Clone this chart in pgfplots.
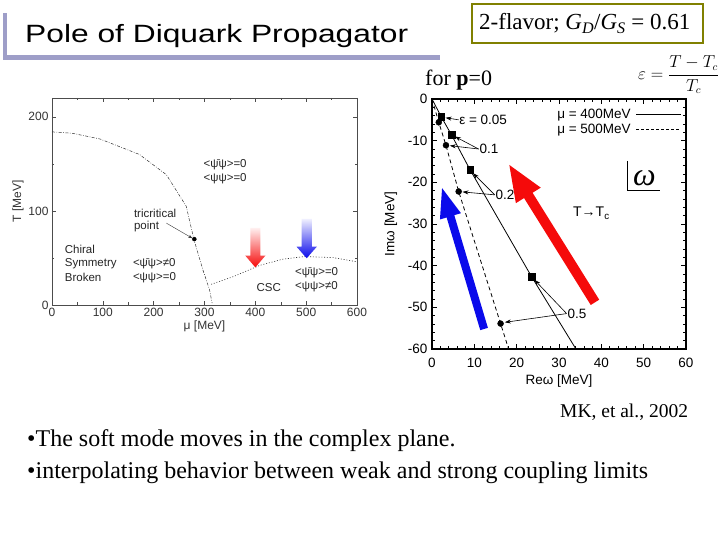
\documentclass[border=0pt]{standalone}
\usepackage{fontspec}
\setmainfont{Liberation Serif}
\newfontfamily\arial{Liberation Sans}
\usepackage{graphicx}
\usepackage{pgfplots}
\pgfplotsset{compat=1.18}
\usetikzlibrary{arrows.meta}
\definecolor{lav}{RGB}{158,158,200}
\definecolor{boxol}{RGB}{128,128,0}
\definecolor{myred}{RGB}{245,10,10}
\definecolor{myblue}{RGB}{10,10,235}
\newcommand{\fs}[1]{\fontsize{#1}{#1}\selectfont}
\begin{document}
\begin{tikzpicture}[x=1pt,y=1pt]
\path[use as bounding box, fill=white] (0pt,0pt) rectangle (720pt,540pt);
% slide decorations
\fill[lav] (3pt,480pt) rectangle (7pt,527pt);
\fill[lav] (3pt,480pt) rectangle (440pt,485pt);
\node[anchor=base west, inner sep=0pt] at (25pt,497pt) {\arial\fs{25}\scalebox{1.27}[1]{Pole of Diquark Propagator}};
\draw[boxol, line width=2.5pt] (472pt,497pt) rectangle (703pt,536pt);
\node[anchor=base west, inner sep=0pt] at (479pt,510pt) {\fs{23}2-flavor; \textit{G}\textsubscript{\textit{D}}/\textit{G}\textsubscript{\textit{S}} = 0.61};
\node[anchor=base west, inner sep=0pt] at (425pt,454pt) {\fs{22}for \textbf{p}=0};
\node[anchor=west, inner sep=0pt] at (638pt,465pt) {\fs{16}$\displaystyle\varepsilon=\frac{T-T_c}{T_c}$};
\node[anchor=base west, inner sep=0pt] at (560pt,122pt) {\fs{19.5}MK, et al., 2002};
\node[anchor=base west, inner sep=0pt] at (27pt,93pt) {\fs{24}\textbullet The soft mode moves in the complex plane.};
\node[anchor=base west, inner sep=0pt] at (27pt,61pt) {\fs{24}\textbullet interpolating behavior between weak and strong coupling limits};

% left: phase diagram
\begin{axis}[
 at={(52pt,235pt)}, anchor=south west, scale only axis, width=305pt, height=207pt,
 xmin=0, xmax=600, ymin=0, ymax=220,
 xtick={0,100,...,600}, ytick={0,100,200},
 minor xtick={50,150,...,550}, minor ytick={50,150},
 axis line style={black!70, line width=0.6pt},
 tick style={black!70, line width=0.5pt}, major tick length=4pt, minor tick length=2.5pt,
 /pgf/number format/assume math mode=true,
 ticklabel style={font=\arial\fs{12}, text=black!80},
 xlabel={μ [MeV]}, ylabel={T [MeV]},
 label style={font=\arial\fs{12}, text=black!80},
 xlabel style={yshift=3pt}, ylabel style={yshift=-2pt},
 clip=false]
\addplot[black!80, line width=0.5pt, dash pattern=on 3pt off 1.5pt on 0.7pt off 1.5pt] coordinates {(0,184)(40,182.5)(94,176.5)(172,160)(225,138.5)(264,105)(279,70)(297,37)(310,16)(315,2)};
\addplot[black!80, line width=0.6pt, dash pattern=on 1pt off 1.8pt] coordinates {(313,22)(356,30)(408,42)(454,48.7)(497,51.5)(553,50.4)(599,46)};
\addplot[only marks, mark=*, mark size=2pt, black] coordinates {(280,70)};
\shade[top color=red!6, bottom color=myred] (axis cs:390,82) -- (axis cs:410,82) -- (axis cs:410,52.6) -- (axis cs:420,52.6) -- (axis cs:400,40) -- (axis cs:380,52.6) -- (axis cs:390,52.6) -- cycle;
\shade[top color=blue!6, bottom color=myblue] (axis cs:491,91.6) -- (axis cs:511,91.6) -- (axis cs:511,62) -- (axis cs:521,62) -- (axis cs:501,49.7) -- (axis cs:481,62) -- (axis cs:491,62) -- cycle;
\draw[black!80, line width=0.4pt, -{Stealth[length=4pt,width=3pt]}] (axis cs:225,87) -- (axis cs:276,71);
\begin{scope}[every node/.style={font=\arial\fs{11.5}, text=black!85, anchor=west, inner sep=0pt}]
\node at (axis cs:298,149) {<ψ̄ψ>=0};
\node at (axis cs:298,134) {<ψψ>=0};
\node at (axis cs:161,97) {tricritical};
\node at (axis cs:161,83.5) {point};
\node at (axis cs:25,58.6) {Chiral};
\node at (axis cs:25,43.7) {Symmetry};
\node at (axis cs:25,29) {Broken};
\node at (axis cs:159,43.7) {<ψ̄ψ>≠0};
\node at (axis cs:159,29) {<ψψ>=0};
\node at (axis cs:402,19) {CSC};
\node at (axis cs:478,34) {<ψ̄ψ>=0};
\node at (axis cs:478,19) {<ψψ>≠0};
\end{scope}
\end{axis}

% right: poles
\begin{axis}[
 at={(432pt,191pt)}, anchor=south west, scale only axis, width=254pt, height=250pt,
 xmin=0, xmax=60, ymin=-60, ymax=0,
 xtick={0,10,...,60}, ytick={-60,-50,...,0},
 minor tick num=4,
 axis line style={line width=1.3pt},
 tick style={line width=0.9pt, black}, major tick length=5pt, minor tick length=3pt,
 /pgf/number format/assume math mode=true,
 ticklabel style={font=\arial\fs{13.5}},
 xticklabel style={yshift=-6pt},
 yticklabel style={xshift=-1pt},
 xlabel={Reω [MeV]}, ylabel={Imω [MeV]},
 label style={font=\arial\fs{13.5}},
 xlabel style={yshift=0pt}, ylabel style={yshift=4pt},
 clip=false]
\draw[myred, line width=10pt, -{Triangle[length=38pt,width=26pt]}] (axis cs:38.5,-48.8) -- (axis cs:18,-15.4);
\draw[myblue, line width=8pt, -{Triangle[length=32pt,width=19pt]}] (axis cs:12.3,-55.2) -- (axis cs:2.2,-20.8);
\addplot[black, line width=0.8pt] coordinates {(0,0)(2.2,-4.3)(4.6,-8.6)(9.0,-17)(23.5,-42.6)(34,-60)};
\addplot[black, line width=0.8pt, dash pattern=on 4pt off 3pt] coordinates {(0,0)(1.6,-5.6)(3.3,-11.1)(6.3,-22.2)(16.2,-53.9)(18.1,-60)};
\addplot[only marks, mark=square*, mark size=3.3pt, black] coordinates {(2.2,-4.3)(4.6,-8.6)(9.0,-17)(23.5,-42.6)};
\addplot[only marks, mark=*, mark size=3pt, black] coordinates {(1.6,-5.6)(3.3,-11.1)(6.3,-22.2)(16.2,-53.9)};
\begin{scope}[-{Stealth[length=6pt,width=4pt]}, line width=0.6pt]
\draw (axis cs:6.3,-5) -- (axis cs:3.2,-4.5);
\draw (axis cs:11,-12) -- (axis cs:5.4,-9);
\draw (axis cs:11,-12) -- (axis cs:4.2,-11.2);
\draw (axis cs:14.8,-23) -- (axis cs:9.7,-17.8);
\draw (axis cs:14.8,-23) -- (axis cs:7.2,-22.3);
\draw (axis cs:31.8,-51.5) -- (axis cs:24.2,-43.4);
\draw (axis cs:31.8,-51.5) -- (axis cs:17.2,-53.6);
\end{scope}
\begin{scope}[every node/.style={font=\arial\fs{13.5}, anchor=west, inner sep=0pt}]
\node at (axis cs:6.4,-5) {ε = 0.05};
\node at (axis cs:11.2,-12) {0.1};
\node at (axis cs:15,-23) {0.2};
\node at (axis cs:32,-51.5) {0.5};
\node[anchor=east] at (axis cs:47,-3.8) {μ = 400MeV};
\node[anchor=east] at (axis cs:47,-7.4) {μ = 500MeV};
\node[font=\arial\fs{14}] at (axis cs:33.3,-27.4) {T→T\textsubscript{c}};
\end{scope}
\draw[line width=0.7pt] (axis cs:48.3,-3.8) -- (axis cs:58.9,-3.8);
\draw[line width=0.7pt, dash pattern=on 3pt off 2pt] (axis cs:48.3,-7.4) -- (axis cs:58.9,-7.4);
\end{axis}
% omega symbol
\draw[line width=0.8pt] (627pt,379pt) -- (627pt,350pt) -- (660pt,350pt);
\node[anchor=base west, inner sep=0pt] at (633pt,354pt) {\fs{32}\itshape ω};
\end{tikzpicture}
\end{document}
